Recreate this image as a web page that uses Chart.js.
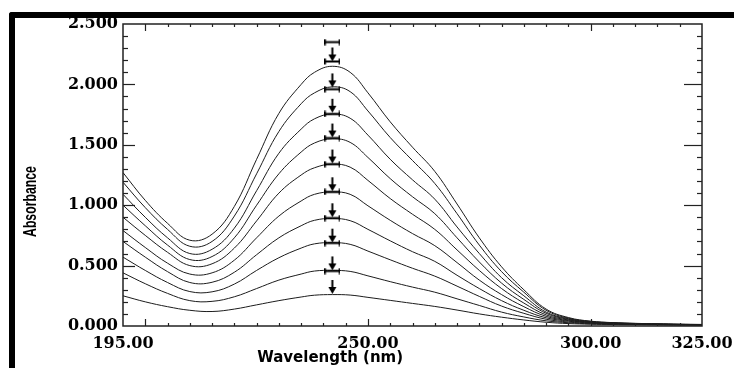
<!DOCTYPE html>
<html>
<head>
<meta charset="utf-8">
<script src="https://cdn.jsdelivr.net/npm/chart.js@4.4.1/dist/chart.umd.min.js"></script>
<style>
  html, body { margin: 0; padding: 0; background: #fff; }
  #wrap { position: relative; width: 734px; height: 368px; overflow: hidden; background: #fff; }
  #frame { position: absolute; left: 9px; top: 12px; width: 760px; height: 400px;
           border-top: 6px solid #000; border-left: 6px solid #000; border-top-left-radius: 3px; }
  #c { position: absolute; left: 0; top: 0; }
</style>
</head>
<body>
<div id="wrap">
  <div id="frame"></div>
  <canvas id="c" width="734" height="368"></canvas>
</div>
<script>
// ---- data ----
const wavelengths = [195,200,205,210,215,220,225,230,235,238,242,246,250,255,260,265,270,275,280,285,290,295,300,305,310,315,320,325];

const scan1  = [1.27,1.04,0.85,0.71,0.76,0.99,1.38,1.76,2.00,2.10,2.15,2.10,1.93,1.69,1.48,1.28,1.01,0.73,0.49,0.30,0.14,0.07,0.04,0.028,0.022,0.018,0.015,0.013];
const scan2  = [1.19,0.98,0.80,0.66,0.70,0.91,1.26,1.61,1.84,1.93,1.98,1.94,1.78,1.56,1.37,1.18,0.93,0.67,0.45,0.28,0.13,0.065,0.038,0.027,0.021,0.017,0.014,0.012];
const scan3  = [1.09,0.90,0.73,0.60,0.635,0.81,1.12,1.43,1.63,1.715,1.755,1.72,1.58,1.38,1.21,1.05,0.82,0.60,0.40,0.25,0.115,0.06,0.035,0.025,0.02,0.016,0.013,0.012];
const scan4  = [1.00,0.83,0.67,0.55,0.575,0.73,1.00,1.26,1.44,1.515,1.55,1.52,1.395,1.22,1.07,0.93,0.73,0.53,0.355,0.22,0.105,0.055,0.032,0.024,0.019,0.015,0.013,0.011];
const scan5  = [0.90,0.75,0.61,0.50,0.515,0.645,0.87,1.10,1.25,1.31,1.34,1.315,1.205,1.055,0.925,0.80,0.63,0.46,0.31,0.19,0.092,0.05,0.03,0.022,0.018,0.015,0.012,0.011];
const scan6  = [0.79,0.65,0.52,0.43,0.44,0.545,0.73,0.91,1.035,1.09,1.11,1.09,0.995,0.875,0.765,0.665,0.525,0.38,0.26,0.16,0.08,0.045,0.028,0.021,0.017,0.014,0.012,0.01];
const scan7  = [0.70,0.57,0.45,0.36,0.362,0.445,0.59,0.73,0.83,0.875,0.89,0.872,0.80,0.705,0.615,0.535,0.42,0.31,0.21,0.13,0.068,0.04,0.025,0.02,0.016,0.013,0.011,0.01];
const scan8  = [0.57,0.46,0.36,0.285,0.283,0.347,0.46,0.565,0.645,0.68,0.69,0.676,0.62,0.548,0.478,0.413,0.33,0.245,0.165,0.105,0.056,0.033,0.022,0.018,0.015,0.012,0.01,0.009];
const scan9  = [0.44,0.35,0.27,0.21,0.204,0.242,0.31,0.38,0.43,0.455,0.46,0.452,0.415,0.367,0.322,0.28,0.225,0.17,0.115,0.075,0.043,0.027,0.018,0.015,0.013,0.011,0.009,0.008];
const scan10 = [0.25,0.20,0.16,0.13,0.12,0.14,0.175,0.21,0.24,0.255,0.26,0.256,0.237,0.212,0.187,0.162,0.132,0.10,0.073,0.05,0.031,0.02,0.015,0.012,0.01,0.009,0.008,0.007];
const scans = [scan1, scan2, scan3, scan4, scan5, scan6, scan7, scan8, scan9, scan10];

// peak-marker annotation (bars and downward arrows at the peak wavelength)
const markerWavelength = 242;
const barLevels  = [2.35, 2.19, 1.96, 1.755, 1.556, 1.34, 1.11, 0.894, 0.687, 0.455];
const arrowTips  = [2.19, 1.975, 1.765, 1.56, 1.345, 1.115, 0.90, 0.69, 0.46, 0.265];

// axes
const xMin = 195, xMax = 325;
const xTickValues = [195, 250, 300, 325];
const yMin = 0, yMax = 2.5, yStep = 0.5;
const xTitle = 'Wavelength (nm)';
const yTitle = 'Absorbance';

// ---- marker glyphs used as point styles ----
function makeBar() {
  const c = document.createElement('canvas'); c.width = 16; c.height = 7;
  const g = c.getContext('2d'); g.fillStyle = '#000';
  g.fillRect(1, 2.5, 14, 2);     // bar
  g.fillRect(0, 0.5, 1.6, 6);    // left cap
  g.fillRect(14.4, 0.5, 1.6, 6); // right cap
  return c;
}
function makeArrow() {
  // the tip sits at the image centre, so the point value is the tip level
  const c = document.createElement('canvas'); c.width = 9; c.height = 30;
  const g = c.getContext('2d'); g.fillStyle = '#000';
  g.fillRect(3.5, 1, 2, 9);
  g.beginPath(); g.moveTo(0.5, 8); g.lineTo(8.5, 8); g.lineTo(4.5, 15); g.closePath(); g.fill();
  return c;
}
const barImg = makeBar();
const arrowImg = makeArrow();

// ---- build datasets ----
const datasets = scans.map((s, i) => ({
  label: 'Scan ' + (i + 1),
  data: wavelengths.map((w, k) => ({x: w, y: s[k]})),
  borderColor: '#1c1c1c',
  borderWidth: 1,
  pointRadius: 0,
  fill: false,
  tension: 0.4,
  order: 5
}));
datasets.push({
  label: 'bars', type: 'scatter',
  data: barLevels.map(v => ({x: markerWavelength, y: v})),
  pointStyle: barImg, order: 0
});
datasets.push({
  label: 'arrows', type: 'scatter',
  data: arrowTips.map(v => ({x: markerWavelength, y: v})),
  pointStyle: arrowImg, order: 0
});

// ---- frame, inner tick marks, axis titles ----
const decor = {
  id: 'decor',
  afterDraw(chart) {
    const {ctx, chartArea: a, scales: {x, y}} = chart;
    ctx.save();
    ctx.strokeStyle = '#222';
    ctx.lineWidth = 1.5;
    ctx.strokeRect(a.left, a.top, a.right - a.left, a.bottom - a.top);
    ctx.lineWidth = 1.2;
    const seg = (x1, y1, x2, y2) => { ctx.beginPath(); ctx.moveTo(x1, y1); ctx.lineTo(x2, y2); ctx.stroke(); };
    for (let v = 200; v < x.max; v += 5) {
      const px = Math.round(x.getPixelForValue(v)) + 0.5;
      const L = (v % 50 === 0) ? 7 : 3;
      seg(px, a.bottom, px, a.bottom - L);
      seg(px, a.top, px, a.top + L);
    }
    for (let i = 1; i < 25; i++) {
      const py = Math.round(y.getPixelForValue(i / 10)) + 0.5;
      const major = i % 5 === 0;
      seg(a.left, py, a.left + (major ? 12 : 5), py);
      seg(a.right, py, a.right - (major ? 18 : 5), py);
    }
    ctx.fillStyle = '#000';
    ctx.textAlign = 'center';
    ctx.textBaseline = 'middle';
    ctx.font = 'bold 15px "DejaVu Sans"';
    ctx.fillText(xTitle, x.getPixelForValue(241.5), 358);
    ctx.save();
    ctx.translate(a.left - 92, y.getPixelForValue(1.03));
    ctx.rotate(-Math.PI / 2);
    ctx.scale(0.68, 1);
    ctx.font = 'bold 18px "Liberation Sans", Arial, sans-serif';
    ctx.fillText(yTitle, 0, 0);
    ctx.restore();
    ctx.restore();
  }
};

const tickFont = {family: '"DejaVu Serif", serif', size: 16, weight: 'bold'};

new Chart(document.getElementById('c'), {
  type: 'line',
  data: {datasets},
  options: {
    responsive: false,
    animation: false,
    layout: {padding: {left: 0, top: 24, right: 32, bottom: 0}},
    plugins: {legend: {display: false}, tooltip: {enabled: false}},
    scales: {
      x: {
        type: 'linear', min: xMin, max: xMax,
        grid: {display: false, drawTicks: false},
        border: {display: false},
        afterBuildTicks: s => { s.ticks = xTickValues.map(v => ({value: v})); },
        afterFit: s => { s.height = 42; s.paddingLeft = 0; s.paddingRight = 0; },
        ticks: {autoSkip: false, maxRotation: 0, padding: 8, color: '#000', font: tickFont,
                callback: v => Number(v).toFixed(2)}
      },
      y: {
        type: 'linear', min: yMin, max: yMax,
        grid: {display: false, drawTicks: false},
        border: {display: false},
        afterFit: s => { s.width = 123; s.paddingTop = 0; s.paddingBottom = 0; },
        ticks: {stepSize: yStep, padding: 5, color: '#000', font: tickFont,
                callback: v => Number(v).toFixed(3)}
      }
    }
  },
  plugins: [decor]
});
</script>
</body>
</html>
